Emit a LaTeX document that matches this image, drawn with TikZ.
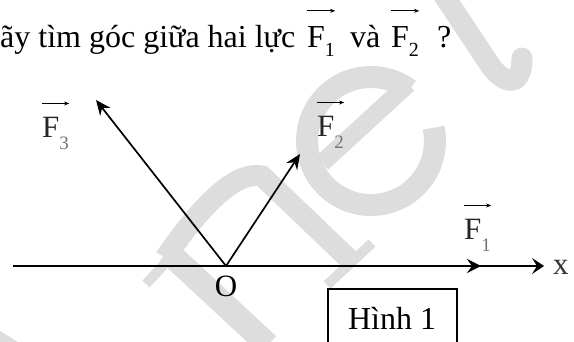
\documentclass[tikz,border=0pt]{standalone}
\usepackage{fontspec}
\setmainfont{Liberation Serif}
\usetikzlibrary{arrows.meta}
\definecolor{wm}{RGB}{221,221,221}
\newcommand\vsubtxt[1]{\raisebox{-9pt}{\fontsize{20}{20}\selectfont #1}}
\newcommand\vsublbl[1]{\raisebox{-12pt}{\fontsize{19}{19}\selectfont\color{black!55}#1}}
\begin{document}
\begin{tikzpicture}[x=1pt,y=-1pt,
  wmstroke/.style={draw=wm,line width=21pt},
  wmthin/.style={draw=wm,line width=10pt},
  ttl/.style={inner sep=0pt,anchor=base west,font=\fontsize{32}{32}\selectfont},
  lbl/.style={inner sep=0pt,anchor=base west,font=\fontsize{31}{31}\selectfont,text=black!85},
  ovarrow/.style={line width=0.9pt,-{Stealth[length=5pt,width=4pt]}},
  vecline/.style={line width=1.7pt,-{Stealth[length=15pt,width=13pt,inset=5pt]}},
  axisline/.style={line width=1.5pt,-{Stealth[length=12pt,width=16pt,inset=5pt]}},
  f1line/.style={line width=2.6pt,-{Stealth[length=14pt,width=14pt,inset=5pt]}},
  boxline/.style={line width=1.3pt}
]
\useasboundingbox (0,0) rectangle (574,342);
% watermark
\draw[wmstroke,line cap=round] (437,-15) -- (488,62) .. controls (500,82) and (522,92) .. (522,58);
\draw[wmstroke,line width=22pt] (371,141) ++(-53:64) arc[start angle=-53,end angle=-372,radius=64];
\draw[wmstroke,line width=18pt] (322,163) -- (408,84);
\draw[wmstroke] (165,258) .. controls (195,215) and (232,170) .. (262,176) -- (352,262);
\draw[wmstroke,line width=24pt] (168,252) -- (268,345);
\draw[wmthin] (327,285) -- (372,243);
\draw[wmthin] (146,284) -- (172,256);
\fill[wm] (0,331) -- (18,342) -- (0,342) -- cycle;
% title
\node[ttl] (title) at (0,48) {ãy tìm góc giữa hai lực};
\node[ttl] (tF1) at (307,48) {F\vsubtxt{1}};
\node[ttl] (tva) at (350,48) {và};
\node[ttl] (tF2) at (391,48) {F\vsubtxt{2}};
\node[ttl] (tq) at (437,48) {?};
\draw[ovarrow] ([yshift=16pt]tF1.north west) -- ([yshift=16pt]tF1.north east);
\draw[ovarrow] ([yshift=16pt]tF2.north west) -- ([yshift=16pt]tF2.north east);
% diagram
\coordinate (xl) at (13,266);
\coordinate (xr) at (544,266);
\coordinate (O) at (226,266);
\coordinate (F1e) at (481,266);
\coordinate (F2e) at (300,154);
\coordinate (F3e) at (96,100);
\draw[axisline] (xl) -- (xr);
\draw[f1line] (O) -- (F1e);
\draw[vecline] (O) -- (F2e);
\draw[vecline] (O) -- (F3e);
\node[inner sep=0pt,font=\fontsize{31}{31}\selectfont] (Olbl) at (226,286) {O};
\node[inner sep=0pt,anchor=base west,font=\fontsize{31}{31}\selectfont,text=black!80] (xlbl) at (553,275) {x};
\node[lbl] (lF3) at (42,138) {F\vsublbl{3}};
\node[lbl] (lF2) at (317,137) {F\vsublbl{2}};
\node[lbl] (lF1) at (464,240) {F\vsublbl{1}};
\draw[ovarrow] ([yshift=14pt]lF3.north west) -- ([yshift=14pt]lF3.north east);
\draw[ovarrow] ([yshift=14pt]lF2.north west) -- ([yshift=14pt]lF2.north east);
\draw[ovarrow] ([yshift=14pt]lF1.north west) -- ([yshift=14pt]lF1.north east);
\draw[boxline] (328,345) -- (328,289) -- (457,289) -- (457,345);
\node[inner sep=0pt,anchor=base,font=\fontsize{32}{32}\selectfont] (hinh) at (392,330) {Hình 1};
\end{tikzpicture}
\end{document}
